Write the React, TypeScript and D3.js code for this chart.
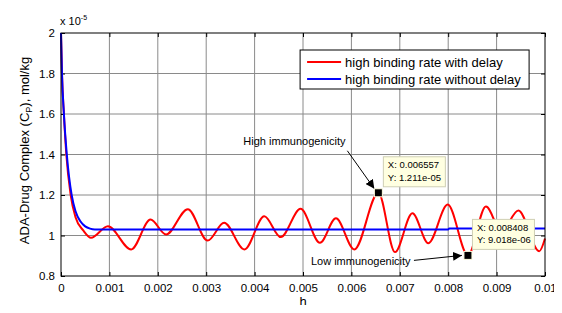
import { useEffect, useRef } from 'react';
import * as d3 from 'd3';

// time (h) and concentration (x 1e-5 mol/kg)
const redX = [0, 0.00002, 0.00006, 0.00011, 0.0002, 0.0003, 0.00046, 0.00062, 0.00097, 0.00145, 0.00185, 0.00217, 0.00262, 0.00303, 0.00337, 0.00379, 0.0042, 0.00454, 0.00495, 0.00535, 0.00568, 0.00606, 0.006557, 0.0069, 0.00726, 0.00759, 0.00799, 0.008408, 0.00878, 0.0091, 0.00945, 0.00988, 0.01];
const redY = [2.0, 1.8, 1.6, 1.4, 1.2, 1.09, 1.025, 0.989, 1.046, 0.931, 1.079, 1.005, 1.13, 0.975, 1.063, 0.931, 1.095, 0.992, 1.132, 0.964, 1.085, 0.931, 1.211, 0.918, 1.11, 0.962, 1.153, 0.9018, 1.143, 1.02, 1.123, 0.922, 0.985];

const blueX = [0, 0.00002, 0.00006, 0.00012, 0.00022, 0.0003, 0.0004, 0.0005, 0.0006, 0.0007, 0.008, 0.00802, 0.01];
const blueY = [2.0, 1.8, 1.6, 1.4, 1.2, 1.12, 1.07, 1.045, 1.034, 1.03, 1.03, 1.035, 1.035];

const xTicks = [0, 0.001, 0.002, 0.003, 0.004, 0.005, 0.006, 0.007, 0.008, 0.009, 0.01];
const yTicks = [0.8, 1, 1.2, 1.4, 1.6, 1.8, 2];

const legendLabels = ['high binding rate with delay', 'high binding rate without delay'];
const colors = ['#ff0000', '#0000ff'];

const tips = [
  { x: 0.006557, y: 1.211, lines: ['X: 0.006557', 'Y: 1.211e-05'], label: 'High immunogenicity' },
  { x: 0.008408, y: 0.9018, lines: ['X: 0.008408', 'Y: 9.018e-06'], label: 'Low immunogenicity' },
];

export default function App() {
  const ref = useRef<SVGSVGElement>(null);

  useEffect(() => {
    const svg = d3.select(ref.current);
    svg.selectAll('*').remove();

    const margin = { top: 33, right: 17, bottom: 37, left: 61 };
    const width = 562 - margin.left - margin.right;
    const height = 313 - margin.top - margin.bottom;
    const font = 'Arial, "Liberation Sans", sans-serif';

    const x = d3.scaleLinear().domain([0, 0.01]).range([0, width]);
    const y = d3.scaleLinear().domain([0.8, 2]).range([height, 0]);

    svg.append('defs').append('marker')
      .attr('id', 'arr')
      .attr('viewBox', '0 0 10 10')
      .attr('refX', 10).attr('refY', 5)
      .attr('markerWidth', 9).attr('markerHeight', 9)
      .attr('markerUnits', 'userSpaceOnUse')
      .attr('orient', 'auto')
      .append('path').attr('d', 'M0,0 L10,5 L0,10 z').attr('fill', '#000');

    const g = svg.append('g').attr('transform', `translate(${margin.left},${margin.top})`);

    // grid
    g.append('g').selectAll('line').data(xTicks.slice(1, -1)).enter().append('line')
      .attr('x1', d => x(d)).attr('x2', d => x(d)).attr('y1', 0).attr('y2', height)
      .attr('stroke', '#8a8a8a').attr('stroke-width', 1);
    g.append('g').selectAll('line').data(yTicks.slice(1, -1)).enter().append('line')
      .attr('y1', d => y(d)).attr('y2', d => y(d)).attr('x1', 0).attr('x2', width)
      .attr('stroke', '#8a8a8a').attr('stroke-width', 1);

    // inner ticks on all sides
    const tl = 4;
    const axX = d3.axisBottom(x).tickValues(xTicks).tickSize(-tl).tickPadding(8)
      .tickFormat(d => (d === 0 ? '0' : d3.format('.3~f')(d as number)));
    const axXTop = d3.axisTop(x).tickValues(xTicks).tickSize(-tl).tickFormat(() => '');
    const axY = d3.axisLeft(y).tickValues(yTicks).tickSize(-tl).tickPadding(6)
      .tickFormat(d => d3.format('~g')(d as number));
    const axYR = d3.axisRight(y).tickValues(yTicks).tickSize(-tl).tickFormat(() => '');

    const gx = g.append('g').attr('transform', `translate(0,${height})`).call(axX);
    g.append('g').call(axXTop);
    const gy = g.append('g').call(axY);
    g.append('g').attr('transform', `translate(${width},0)`).call(axYR);
    g.selectAll('.domain').remove();
    g.selectAll('.tick line').attr('stroke', '#000');
    [gx, gy].forEach(a => a.selectAll('text').attr('font-family', font).attr('font-size', 11.5).attr('fill', '#000'));

    // lines
    const line = d3.line<[number, number]>()
      .x(d => x(d[0])).y(d => y(d[1]))
      .curve(d3.curveMonotoneX);
    const redData = redX.map((v, i) => [v, redY[i]] as [number, number]);
    const blueData = blueX.map((v, i) => [v, blueY[i]] as [number, number]);
    g.append('path').datum(redData).attr('d', line).attr('fill', 'none')
      .attr('stroke', colors[0]).attr('stroke-width', 2);
    g.append('path').datum(blueData).attr('d', line).attr('fill', 'none')
      .attr('stroke', colors[1]).attr('stroke-width', 2);

    // box
    g.append('rect').attr('width', width).attr('height', height)
      .attr('fill', 'none').attr('stroke', '#000').attr('stroke-width', 1);

    // legend
    const lg = g.append('g').attr('transform', `translate(${x(0.00494)},17)`);
    lg.append('rect').attr('width', 229).attr('height', 39)
      .attr('fill', '#fff').attr('stroke', '#000').attr('stroke-width', 1);
    legendLabels.forEach((lab, i) => {
      const yy = 12 + i * 17;
      lg.append('line').attr('x1', 7).attr('x2', 41).attr('y1', yy).attr('y2', yy)
        .attr('stroke', colors[i]).attr('stroke-width', 2);
      lg.append('text').attr('x', 45).attr('y', yy + 4.5).text(lab)
        .attr('font-family', font).attr('font-size', 13).attr('fill', '#000');
    });

    // data tips
    const tipBox = [
      { dx: 5, dy: -36, lx: -135, ly: -48, ax0: -31, ay0: -42, ax1: -4, ay1: -4 },
      { dx: 4.5, dy: -36, lx: -157, ly: 10, ax0: -54, ay0: 5, ax1: -6, ay1: 0 },
    ];
    tips.forEach((t, i) => {
      const px = x(t.x), py = y(t.y);
      const b = tipBox[i];
      g.append('line').attr('x1', px + b.ax0).attr('y1', py + b.ay0)
        .attr('x2', px + b.ax1).attr('y2', py + b.ay1)
        .attr('stroke', '#000').attr('stroke-width', 1).attr('marker-end', 'url(#arr)');
      g.append('text').attr('x', px + b.lx).attr('y', py + b.ly).text(t.label)
        .attr('font-family', font).attr('font-size', 11).attr('fill', '#000');
      const bx = px + b.dx, by = py + b.dy;
      g.append('rect').attr('x', bx).attr('y', by).attr('width', 62).attr('height', 30)
        .attr('fill', '#ffffe1').attr('stroke', '#cfcfb4').attr('stroke-width', 1);
      t.lines.forEach((s, j) => {
        g.append('text').attr('x', bx + 4.5).attr('y', by + 11.5 + j * 12.5).text(s)
          .attr('font-family', font).attr('font-size', 9.5).attr('fill', '#000');
      });
      g.append('rect').attr('x', px - 4).attr('y', py - 4).attr('width', 8).attr('height', 8)
        .attr('fill', '#000').attr('stroke', '#ffffe1').attr('stroke-width', 1);
    });

    // axis labels
    svg.append('text').attr('x', margin.left + width / 2).attr('y', 306)
      .attr('text-anchor', 'middle').text('h')
      .attr('font-family', font).attr('font-size', 13).attr('fill', '#000');

    const yl = svg.append('text')
      .attr('transform', `translate(29,${margin.top + height / 2 - 4}) rotate(-90)`)
      .attr('text-anchor', 'middle')
      .attr('font-family', font).attr('font-size', 13).attr('fill', '#000');
    yl.append('tspan').text('ADA-Drug Complex (C');
    yl.append('tspan').attr('font-size', 9).attr('dy', 3).text('P');
    yl.append('tspan').attr('dy', -3).text('), mol/kg');

    const ex = svg.append('text').attr('x', margin.left - 1).attr('y', 25)
      .attr('font-family', font).attr('font-size', 11).attr('fill', '#000');
    ex.append('tspan').text('x 10');
    ex.append('tspan').attr('font-size', 7).attr('dy', -5).text('-5');
  }, []);

  return (
    <div style={{ margin: -8 }}>
      <svg ref={ref} width={562} height={313} style={{ display: 'block', background: '#fff' }} />
    </div>
  );
}
